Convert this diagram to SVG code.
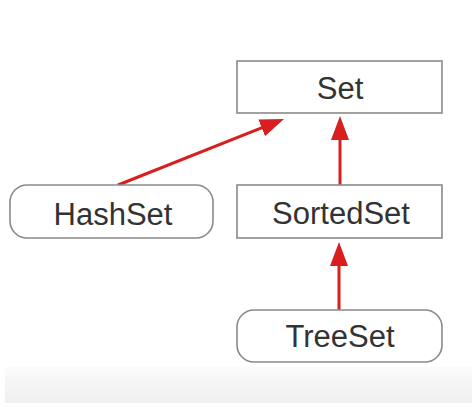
<svg xmlns="http://www.w3.org/2000/svg" width="474" height="407" viewBox="0 0 474 407">
  <defs>
    <linearGradient id="band" x1="0" y1="0" x2="0" y2="1">
      <stop offset="0" stop-color="#fbfbfb"/>
      <stop offset="1" stop-color="#efefef"/>
    </linearGradient>
    <marker id="head" viewBox="0 0 24 18" refX="14" refY="9" markerWidth="24" markerHeight="18" markerUnits="userSpaceOnUse" orient="auto">
      <path d="M0,0 L24,9 L0,18 z" fill="#d81e1e"/>
    </marker>
    <style>
      .box { fill: #ffffff; stroke: #8a8a8a; stroke-width: 1.6; }
      .label { font-family: "Liberation Sans", Arial, sans-serif; font-size: 31px; fill: #333333; text-anchor: middle; }
      .edge { stroke: #d81e1e; stroke-width: 3; fill: none; marker-end: url(#head); }
    </style>
  </defs>
  <rect x="0" y="0" width="474" height="407" fill="#ffffff"/>
  <rect x="5" y="367" width="467" height="36" fill="url(#band)"/>

  <g id="connectors">
    <line class="edge" x1="118" y1="185" x2="274.7" y2="122.7"/>
    <line class="edge" x1="340" y1="185" x2="340" y2="126"/>
    <line class="edge" x1="339" y1="310" x2="339" y2="252"/>
  </g>

  <g id="node-set">
    <rect class="box" x="237" y="61" width="205" height="52"/>
    <text class="label" x="340" y="99">Set</text>
  </g>
  <g id="node-hashset">
    <rect class="box" x="10" y="185" width="203" height="53" rx="17" ry="17"/>
    <text class="label" x="113" y="225">HashSet</text>
  </g>
  <g id="node-sortedset">
    <rect class="box" x="237" y="185" width="205" height="53"/>
    <text class="label" x="341" y="224">SortedSet</text>
  </g>
  <g id="node-treeset">
    <rect class="box" x="237" y="310" width="205" height="52" rx="17" ry="17"/>
    <text class="label" x="340" y="347">TreeSet</text>
  </g>
</svg>
